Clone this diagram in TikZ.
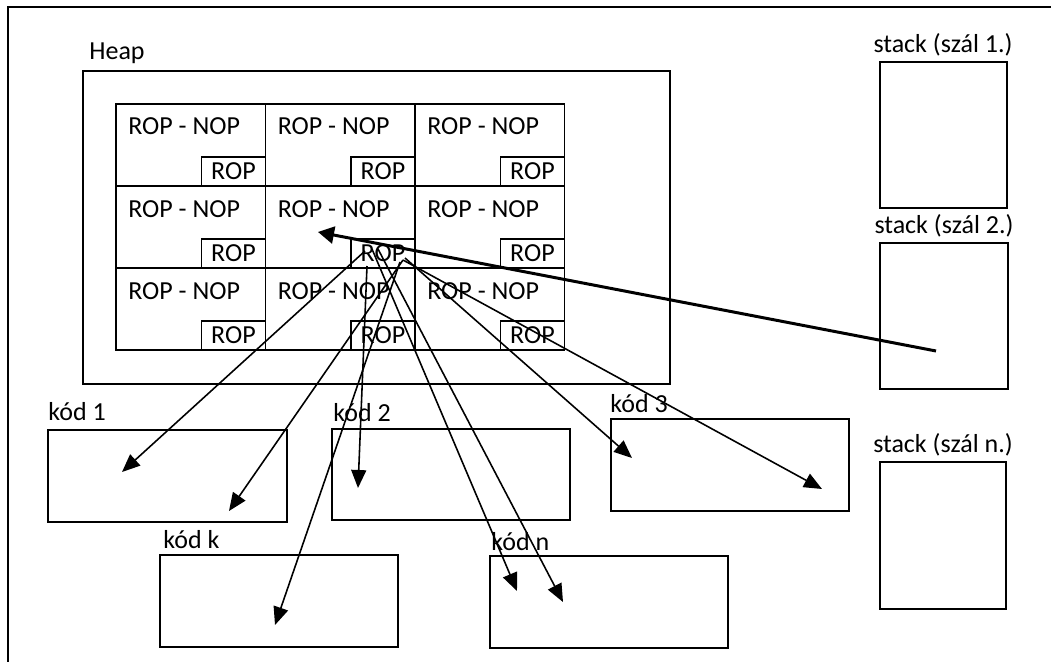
\documentclass[tikz,border=0pt]{standalone}
\usepackage{fontspec}
\setmainfont{Carlito}
\usetikzlibrary{arrows.meta}

\begin{document}
\begin{tikzpicture}[x=0.02cm,y=-0.02cm,
    box/.style={draw, line width=0.75pt, inner sep=0pt, outer sep=0pt, anchor=north west},
    cell/.style={box, minimum width=2.99cm, minimum height=1.64cm},
    ropbox/.style={draw, line width=0.75pt, inner sep=0pt, outer sep=0pt, anchor=south east,
        minimum width=1.28cm, minimum height=0.58cm, font=\fontsize{14.8}{17}\selectfont},
    txt/.style={anchor=base west, inner sep=0pt, font=\fontsize{14.8}{17}\selectfont},
    ptr/.style={line width=0.9pt, -{Triangle[length=0.36cm,width=0.3cm]}}]

    \useasboundingbox (0,0) rectangle (1051,662);

    % frame
    \draw[line width=0.75pt] (8,662) -- (8,7) -- (1051,7);

    % heap
    \node[txt] (heaplbl) at (89,60) {Heap};
    \node[box, minimum width=11.74cm, minimum height=6.26cm] (heap) at (83,71) {};

    % draws cells
    \node[cell] (c11) at (116,104) {};
    \node[cell] (c12) at (265.5,104) {};
    \node[cell] (c13) at (415,104) {};
    \node[cell] (c21) at (116,186) {};
    \node[cell] (c22) at (265.5,186) {};
    \node[cell] (c23) at (415,186) {};
    \node[cell] (c31) at (116,268) {};
    \node[cell] (c32) at (265.5,268) {};
    \node[cell] (c33) at (415,268) {};

    % labels cells
    \node[txt] (t11) at (128,135) {ROP - NOP};
    \node[txt] (t12) at (277.5,135) {ROP - NOP};
    \node[txt] (t13) at (427,135) {ROP - NOP};
    \node[txt] (t21) at (128,217) {ROP - NOP};
    \node[txt] (t22) at (277.5,217) {ROP - NOP};
    \node[txt] (t23) at (427,217) {ROP - NOP};
    \node[txt] (t31) at (128,299) {ROP - NOP};
    \node[txt] (t32) at (277.5,299) {ROP - NOP};
    \node[txt] (t33) at (427,299) {ROP - NOP};

    % draws references
    \node[ropbox] (r11) at (c11.south east) {ROP};
    \node[ropbox] (r12) at (c12.south east) {ROP};
    \node[ropbox] (r13) at (c13.south east) {ROP};
    \node[ropbox] (r21) at (c21.south east) {ROP};
    \node[ropbox] (r22) at (c22.south east) {ROP};
    \node[ropbox] (r23) at (c23.south east) {ROP};
    \node[ropbox] (r31) at (c31.south east) {ROP};
    \node[ropbox] (r32) at (c32.south east) {ROP};
    \node[ropbox] (r33) at (c33.south east) {ROP};

    % draws stacks
    \node[txt, anchor=base] (s1lbl) at (943,53) {stack (szál 1.)};
    \node[box, minimum width=2.54cm, minimum height=2.92cm] (stack1) at (880,62) {};
    \node[txt, anchor=base] (s2lbl) at (944,234) {stack (szál 2.)};
    \node[box, minimum width=2.56cm, minimum height=2.92cm] (stack2) at (880,243) {};
    \node[txt, anchor=base] (snlbl) at (943,452) {stack (szál n.)};
    \node[box, minimum width=2.52cm, minimum height=2.94cm] (stackn) at (880,462) {};

    % draws code blocks
    \node[txt] (k1lbl) at (48,420) {kód 1};
    \node[box, minimum width=4.78cm, minimum height=1.84cm] (kod1) at (48,430) {};
    \node[txt] (k2lbl) at (333,421) {kód 2};
    \node[box, minimum width=4.76cm, minimum height=1.82cm] (kod2) at (332,429) {};
    \node[txt] (k3lbl) at (610,412) {kód 3};
    \node[box, minimum width=4.76cm, minimum height=1.84cm] (kod3) at (611,419) {};
    \node[txt] (kklbl) at (163,548) {kód k};
    \node[box, minimum width=4.76cm, minimum height=1.84cm] (kodk) at (160,555) {};
    \node[txt] (knlbl) at (491,550) {kód n};
    \node[box, minimum width=4.76cm, minimum height=1.84cm] (kodn) at (490,556) {};

    % arrow ends
    \coordinate (sp) at (936,351);
    \coordinate (ob) at (318,232);
    \coordinate (o1) at (365,251);
    \coordinate (o2) at (367,266);
    \coordinate (o3) at (403,260);
    \coordinate (o4) at (400,262);
    \coordinate (o5) at (372,249);
    \coordinate (o6) at (378,249);
    \coordinate (o7) at (405,258);
    \coordinate (e1) at (122,472);
    \coordinate (e2) at (358,488);
    \coordinate (ek1) at (229,511);
    \coordinate (ek2) at (275,625);
    \coordinate (en1) at (517,591);
    \coordinate (en2) at (563,602);
    \coordinate (e3a) at (632,458);
    \coordinate (e3b) at (822,489);

    % draws pointers
    \draw[line width=1.7pt, -{Triangle[length=0.32cm,width=0.34cm]}] (sp) -- (ob);
    \draw[ptr] (o1) -- (e1);
    \draw[ptr] (o2) -- (e2);
    \draw[ptr] (o3) -- (ek1);
    \draw[ptr] (o4) -- (ek2);
    \draw[ptr] (o5) -- (en1);
    \draw[ptr] (o6) -- (en2);
    \draw[ptr] (o7) -- (e3a);
    \draw[ptr] (o3) -- (e3b);
\end{tikzpicture}
\end{document}
